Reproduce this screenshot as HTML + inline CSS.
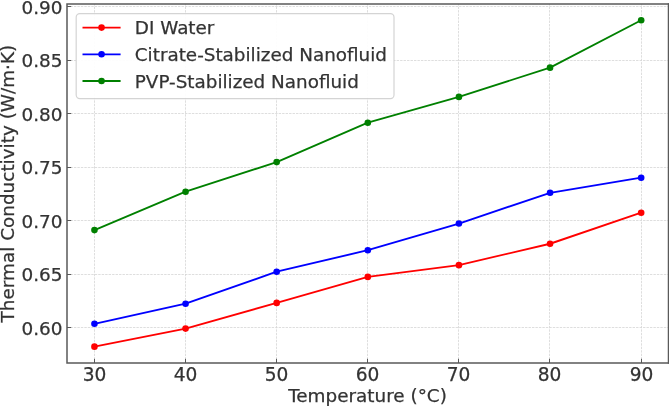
<!DOCTYPE html>
<html lang="en"><head><meta charset="utf-8"><title>Thermal Conductivity vs Temperature</title>
<style>html,body{margin:0;padding:0;background:#fff;overflow:hidden}svg{display:block}text{font-family:"DejaVu Sans","Liberation Sans",sans-serif;font-size:18.4px;fill:#333333;stroke:#333333;stroke-width:0.25px}</style></head><body>
<svg width="669" height="406" viewBox="0 0 669 406">
<rect x="0" y="0" width="669" height="406" fill="#ffffff"/>
<g stroke="#d6d6d6" stroke-width="0.8" stroke-dasharray="2.4 1.07" fill="none">
<line x1="94.50" y1="363.00" x2="94.50" y2="4.00"/>
<line x1="185.50" y1="363.00" x2="185.50" y2="4.00"/>
<line x1="276.50" y1="363.00" x2="276.50" y2="4.00"/>
<line x1="367.50" y1="363.00" x2="367.50" y2="4.00"/>
<line x1="458.50" y1="363.00" x2="458.50" y2="4.00"/>
<line x1="549.50" y1="363.00" x2="549.50" y2="4.00"/>
<line x1="641.50" y1="363.00" x2="641.50" y2="4.00"/>
<line x1="67.00" y1="327.50" x2="668.50" y2="327.50"/>
<line x1="67.00" y1="274.50" x2="668.50" y2="274.50"/>
<line x1="67.00" y1="220.50" x2="668.50" y2="220.50"/>
<line x1="67.00" y1="167.50" x2="668.50" y2="167.50"/>
<line x1="67.00" y1="113.50" x2="668.50" y2="113.50"/>
<line x1="67.00" y1="60.50" x2="668.50" y2="60.50"/>
<line x1="67.00" y1="6.50" x2="668.50" y2="6.50"/>
</g>
<g stroke="#333333" stroke-width="0.8" fill="none">
<line x1="94.50" y1="363.00" x2="94.50" y2="358.80"/>
<line x1="185.50" y1="363.00" x2="185.50" y2="358.80"/>
<line x1="276.50" y1="363.00" x2="276.50" y2="358.80"/>
<line x1="367.50" y1="363.00" x2="367.50" y2="358.80"/>
<line x1="458.50" y1="363.00" x2="458.50" y2="358.80"/>
<line x1="549.50" y1="363.00" x2="549.50" y2="358.80"/>
<line x1="641.50" y1="363.00" x2="641.50" y2="358.80"/>
<line x1="67.00" y1="327.50" x2="71.20" y2="327.50"/>
<line x1="67.00" y1="274.50" x2="71.20" y2="274.50"/>
<line x1="67.00" y1="220.50" x2="71.20" y2="220.50"/>
<line x1="67.00" y1="167.50" x2="71.20" y2="167.50"/>
<line x1="67.00" y1="113.50" x2="71.20" y2="113.50"/>
<line x1="67.00" y1="60.50" x2="71.20" y2="60.50"/>
<line x1="67.00" y1="6.50" x2="71.20" y2="6.50"/>
</g>
<polyline points="94.45,346.65 185.57,328.60 276.69,302.90 367.81,276.90 458.93,265.15 550.05,243.75 641.17,212.70" fill="none" stroke="#ff0000" stroke-width="1.85" stroke-linejoin="round"/>
<circle cx="94.45" cy="346.65" r="3.3" fill="#ff0000"/>
<circle cx="185.57" cy="328.60" r="3.3" fill="#ff0000"/>
<circle cx="276.69" cy="302.90" r="3.3" fill="#ff0000"/>
<circle cx="367.81" cy="276.90" r="3.3" fill="#ff0000"/>
<circle cx="458.93" cy="265.15" r="3.3" fill="#ff0000"/>
<circle cx="550.05" cy="243.75" r="3.3" fill="#ff0000"/>
<circle cx="641.17" cy="212.70" r="3.3" fill="#ff0000"/>
<polyline points="94.45,323.80 185.57,303.70 276.69,271.70 367.81,250.20 458.93,223.55 550.05,192.80 641.17,177.70" fill="none" stroke="#0000ff" stroke-width="1.85" stroke-linejoin="round"/>
<circle cx="94.45" cy="323.80" r="3.3" fill="#0000ff"/>
<circle cx="185.57" cy="303.70" r="3.3" fill="#0000ff"/>
<circle cx="276.69" cy="271.70" r="3.3" fill="#0000ff"/>
<circle cx="367.81" cy="250.20" r="3.3" fill="#0000ff"/>
<circle cx="458.93" cy="223.55" r="3.3" fill="#0000ff"/>
<circle cx="550.05" cy="192.80" r="3.3" fill="#0000ff"/>
<circle cx="641.17" cy="177.70" r="3.3" fill="#0000ff"/>
<polyline points="94.45,230.10 185.57,191.70 276.69,162.10 367.81,122.70 458.93,96.90 550.05,67.65 641.17,20.20" fill="none" stroke="#008000" stroke-width="1.85" stroke-linejoin="round"/>
<circle cx="94.45" cy="230.10" r="3.3" fill="#008000"/>
<circle cx="185.57" cy="191.70" r="3.3" fill="#008000"/>
<circle cx="276.69" cy="162.10" r="3.3" fill="#008000"/>
<circle cx="367.81" cy="122.70" r="3.3" fill="#008000"/>
<circle cx="458.93" cy="96.90" r="3.3" fill="#008000"/>
<circle cx="550.05" cy="67.65" r="3.3" fill="#008000"/>
<circle cx="641.17" cy="20.20" r="3.3" fill="#008000"/>
<path d="M669 4.00 H67.00 V363.00 H669" fill="none" stroke="#5a5a5a" stroke-width="1.5" stroke-linejoin="miter"/>
<line x1="668.5" y1="3.25" x2="668.5" y2="363.75" stroke="#5a5a5a" stroke-width="1.5"/>
<rect x="76.2" y="13.6" width="317.8" height="85.0" rx="3.6" ry="3.6" fill="#ffffff" fill-opacity="0.92" stroke="#cccccc" stroke-opacity="0.85" stroke-width="1.2"/>
<line x1="82.5" y1="27.60" x2="120.6" y2="27.60" stroke="#ff0000" stroke-width="1.85"/>
<circle cx="101.55" cy="27.60" r="3.3" fill="#ff0000"/>
<text x="134.8" y="34.40" style="font-size:18.35px">DI Water</text>
<line x1="82.5" y1="54.30" x2="120.6" y2="54.30" stroke="#0000ff" stroke-width="1.85"/>
<circle cx="101.55" cy="54.30" r="3.3" fill="#0000ff"/>
<text x="134.8" y="61.30" style="font-size:18.35px">Citrate-Stabilized Nanofluid</text>
<line x1="82.5" y1="81.00" x2="120.6" y2="81.00" stroke="#008000" stroke-width="1.85"/>
<circle cx="101.55" cy="81.00" r="3.3" fill="#008000"/>
<text x="134.8" y="88.20" style="font-size:18.35px">PVP-Stabilized Nanofluid</text>
<text x="94.50" y="381" text-anchor="middle" style="font-size:18.6px">30</text>
<text x="185.50" y="381" text-anchor="middle" style="font-size:18.6px">40</text>
<text x="276.50" y="381" text-anchor="middle" style="font-size:18.6px">50</text>
<text x="367.50" y="381" text-anchor="middle" style="font-size:18.6px">60</text>
<text x="458.50" y="381" text-anchor="middle" style="font-size:18.6px">70</text>
<text x="549.50" y="381" text-anchor="middle" style="font-size:18.6px">80</text>
<text x="641.50" y="381" text-anchor="middle" style="font-size:18.6px">90</text>
<text x="62.5" y="334.60" text-anchor="end">0.60</text>
<text x="62.5" y="281.11" text-anchor="end">0.65</text>
<text x="62.5" y="227.62" text-anchor="end">0.70</text>
<text x="62.5" y="174.13" text-anchor="end">0.75</text>
<text x="62.5" y="120.64" text-anchor="end">0.80</text>
<text x="62.5" y="67.15" text-anchor="end">0.85</text>
<text x="62.5" y="14.01" text-anchor="end">0.90</text>
<text x="367.5" y="401.6" text-anchor="middle">Temperature (°C)</text>
<text transform="translate(13.6,183.6) rotate(-90)" text-anchor="middle" style="font-size:18.4px">Thermal Conductivity (W/m·K)</text>
</svg></body></html>
